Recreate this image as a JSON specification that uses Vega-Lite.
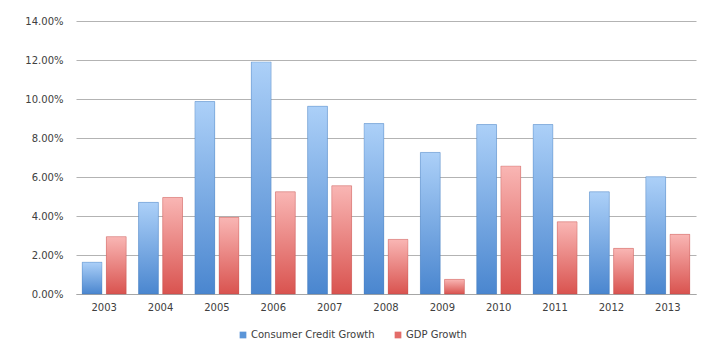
{
  "$schema": "https://vega.github.io/schema/vega-lite/v6.json",
  "autosize": "none",
  "width": 620,
  "height": 273,
  "padding": {"left": 76, "top": 21, "right": 21, "bottom": 58},
  "background": "white",
  "config": {
    "font": "DejaVu Sans",
    "view": {"stroke": null},
    "axis": {"labelFont": "DejaVu Sans", "labelFontSize": 10, "labelColor": "#404040"}
  },
  "data": {
    "values": [
      {"year": "2003", "series": "Consumer Credit Growth", "value": 0.0163},
      {"year": "2004", "series": "Consumer Credit Growth", "value": 0.0470},
      {"year": "2005", "series": "Consumer Credit Growth", "value": 0.0987},
      {"year": "2006", "series": "Consumer Credit Growth", "value": 0.1190},
      {"year": "2007", "series": "Consumer Credit Growth", "value": 0.0963},
      {"year": "2008", "series": "Consumer Credit Growth", "value": 0.0874},
      {"year": "2009", "series": "Consumer Credit Growth", "value": 0.0726},
      {"year": "2010", "series": "Consumer Credit Growth", "value": 0.0869},
      {"year": "2011", "series": "Consumer Credit Growth", "value": 0.0869},
      {"year": "2012", "series": "Consumer Credit Growth", "value": 0.0524},
      {"year": "2013", "series": "Consumer Credit Growth", "value": 0.0601},
      {"year": "2003", "series": "GDP Growth", "value": 0.0294},
      {"year": "2004", "series": "GDP Growth", "value": 0.0495},
      {"year": "2005", "series": "GDP Growth", "value": 0.0393},
      {"year": "2006", "series": "GDP Growth", "value": 0.0524},
      {"year": "2007", "series": "GDP Growth", "value": 0.0555},
      {"year": "2008", "series": "GDP Growth", "value": 0.0280},
      {"year": "2009", "series": "GDP Growth", "value": 0.0075},
      {"year": "2010", "series": "GDP Growth", "value": 0.0656},
      {"year": "2011", "series": "GDP Growth", "value": 0.0370},
      {"year": "2012", "series": "GDP Growth", "value": 0.0234},
      {"year": "2013", "series": "GDP Growth", "value": 0.0306}
    ]
  },
  "encoding": {
    "x": {
      "field": "year", "type": "ordinal",
      "scale": {"paddingInner": 0.22, "paddingOuter": 0.11},
      "axis": {"title": null, "labelAngle": 0, "ticks": false, "domainColor": "#a6a6a6", "labelPadding": 8, "grid": false}
    },
    "xOffset": {
      "field": "series", "type": "nominal",
      "scale": {"domain": ["Consumer Credit Growth", "GDP Growth"], "paddingInner": 0.18, "paddingOuter": 0}
    },
    "y": {
      "field": "value", "type": "quantitative",
      "scale": {"domain": [0, 0.14], "nice": false},
      "axis": {"title": null, "format": ".2%", "values": [0, 0.02, 0.04, 0.06, 0.08, 0.1, 0.12, 0.14], "domain": false, "ticks": false, "labelPadding": 13, "gridColor": "#b3b3b3", "gridWidth": 1}
    }
  },
  "layer": [
    {
      "mark": {"type": "bar", "opacity": 1},
      "encoding": {
        "color": {
          "field": "series", "type": "nominal",
          "scale": {"domain": ["Consumer Credit Growth", "GDP Growth"], "range": ["#5b95d8", "#e36c69"]},
          "legend": {
            "title": null, "orient": "none", "direction": "horizontal",
            "legendX": 162, "legendY": 309,
            "symbolType": "square", "symbolSize": 45, "symbolOffset": 0,
            "labelFontSize": 10, "labelColor": "#404040", "labelFont": "DejaVu Sans",
            "columnPadding": 18, "labelOffset": 3
          }
        }
      }
    },
    {
      "mark": {"type": "bar", "strokeWidth": 0.6, "strokeOpacity": 0.5},
      "encoding": {
        "fill": {
          "condition": {
            "test": "datum.series === 'GDP Growth'",
            "value": {"gradient": "linear", "x1": 0, "y1": 0, "x2": 0, "y2": 1,
              "stops": [{"offset": 0, "color": "#f9b6b4"}, {"offset": 1, "color": "#d9534f"}]}
          },
          "value": {"gradient": "linear", "x1": 0, "y1": 0, "x2": 0, "y2": 1,
            "stops": [{"offset": 0, "color": "#acd0f8"}, {"offset": 1, "color": "#4a86cf"}]}
        },
        "stroke": {
          "condition": {"test": "datum.series === 'GDP Growth'", "value": "#b84744"},
          "value": "#3d72b3"
        }
      }
    }
  ]
}
